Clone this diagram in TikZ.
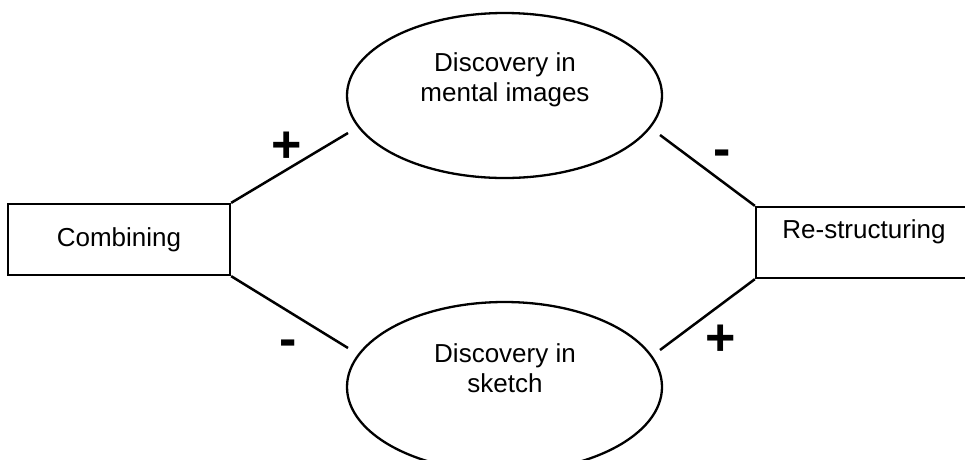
\documentclass[tikz,border=0pt]{standalone}
\usepackage{fontspec}
\setmainfont{Liberation Sans}
\usetikzlibrary{shapes.geometric}
\begin{document}
\begin{tikzpicture}[x=1pt,y=-1pt,
  line width=2.3pt,
  label text/.style={font=\fontsize{26}{30}\selectfont, align=center, inner sep=0pt},
  stage/.style={draw, rectangle, inner sep=0pt, label text},
  discovery/.style={draw, ellipse, inner sep=0pt},
  sign/.style={font=\fontsize{52}{52}\selectfont\bfseries, inner sep=0pt},
  link/.style={line width=2.5pt}]
\useasboundingbox (0,0) rectangle (965,459);

% stage boxes (the right one runs off the page edge)
\node[stage, minimum width=222pt, minimum height=71pt] (L) at (119,239.5) {Combining};
\node[draw, rectangle, minimum width=240pt, minimum height=71pt, inner sep=0pt] (R) at (876,242.5) {};
\node[label text] (Rt) at (864,232) {Re-structuring};

% discovery ellipses
\node[discovery, minimum width=315pt, minimum height=165pt] (M) at (504.5,95.5) {};
\node[label text] (Mt) at (505,80) {Discovery in\\mental images};
\node[discovery, minimum width=315pt, minimum height=170pt] (S) at (504.5,387) {};
\node[label text] (St) at (505,368) {Discovery in\\sketch};

% free ends of the links near the ellipses
\coordinate (c1) at (348,133);
\coordinate (c2) at (660,135);
\coordinate (c3) at (348,348);
\coordinate (c4) at (660,350);

\draw[link] (L.north east) -- (c1);
\draw[link] (c2) -- (R.north west);
\draw[link] (L.south east) -- (c3);
\draw[link] (c4) -- (R.south west);

% signs
\node[sign] (p1) at (287,147) {+};
\node[sign] (m1) at (722,158) {-};
\node[sign] (m2) at (288,348) {-};
\node[sign] (p2) at (721,340) {+};
\end{tikzpicture}
\end{document}
